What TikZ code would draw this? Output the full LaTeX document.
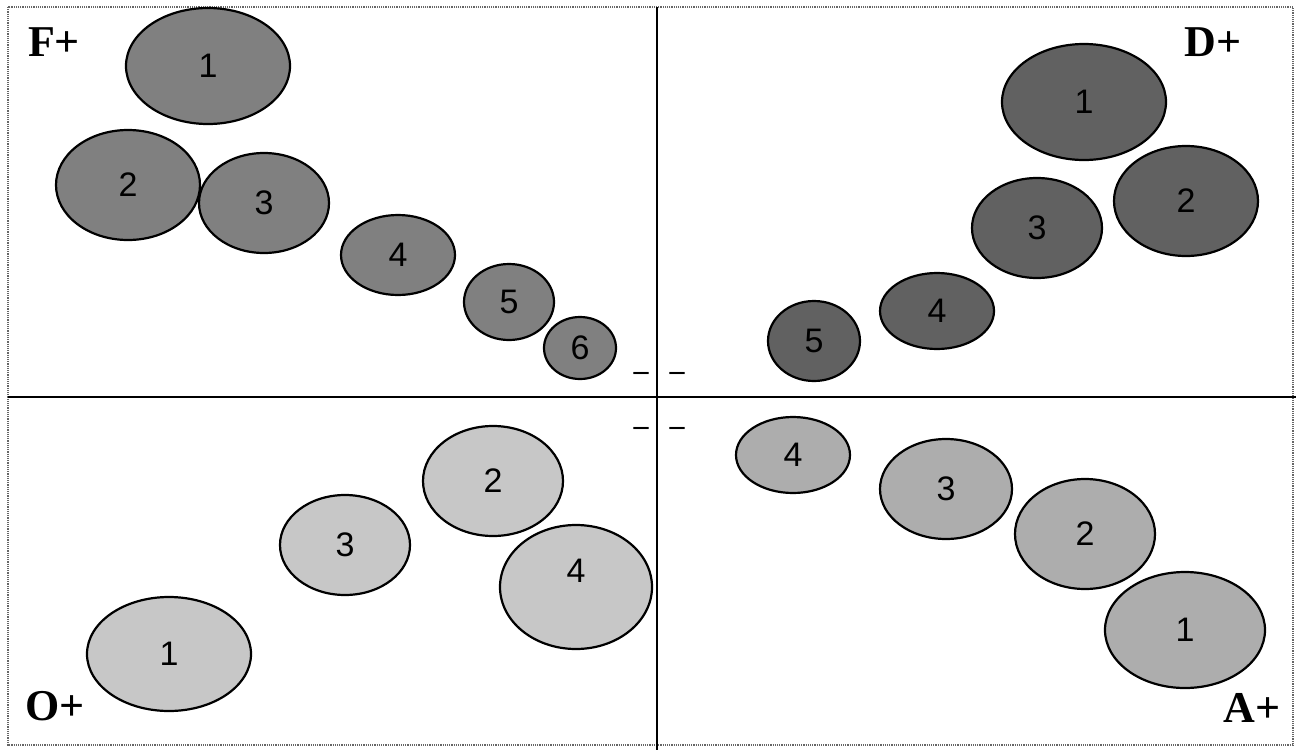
\documentclass[tikz,border=0pt]{standalone}
\usepackage{fontspec}
\usetikzlibrary{shapes.geometric}
\setmainfont{Liberation Serif}
\newfontfamily\numfont{Liberation Sans}
\begin{document}
\begin{tikzpicture}[x=1pt,y=-1pt,
  blob/.style={draw=black,line width=2.2pt,ellipse,inner sep=0pt,font=\numfont\fontsize{34}{34}\selectfont},
  fq/.style={blob,fill=black!50},
  dq/.style={blob,fill=black!62},
  oq/.style={blob,fill=black!22},
  aq/.style={blob,fill=black!32},
  corner/.style={font=\bfseries\fontsize{44}{44}\selectfont,inner sep=0pt},
  dashmark/.style={font=\bfseries\fontsize{30}{30}\selectfont,inner sep=0pt},
  axis/.style={line width=2pt,black}]
\useasboundingbox (0,0) rectangle (1296,750);
\fill[white] (0,0) rectangle (1296,750);
\draw[black!60,densely dotted,line width=1.2pt] (8,7) rectangle (1293,745);
\coordinate (vt) at (657,7);
\coordinate (vb) at (657,750);
\coordinate (hl) at (8,397);
\coordinate (hr) at (1296,397);
\draw[axis] (vt) -- (vb);
\draw[axis] (hl) -- (hr);
% F+
\node[fq,minimum width=164pt,minimum height=116pt] (f1) at (208,66) {1};
\node[fq,minimum width=144pt,minimum height=110pt] (f2) at (128,185) {2};
\node[fq,minimum width=130pt,minimum height=100pt] (f3) at (264,203) {3};
\node[fq,minimum width=114pt,minimum height=80pt] (f4) at (398,255) {4};
\node[fq,minimum width=90pt,minimum height=76pt] (f5) at (509,302) {5};
\node[fq,minimum width=72pt,minimum height=62pt] (f6) at (580,348) {6};
% D+
\node[dq,minimum width=164pt,minimum height=116pt] (d1) at (1084,102) {1};
\node[dq,minimum width=144pt,minimum height=110pt] (d2) at (1186,201) {2};
\node[dq,minimum width=130pt,minimum height=100pt] (d3) at (1037,228) {3};
\node[dq,minimum width=114pt,minimum height=76pt] (d4) at (937,311) {4};
\node[dq,minimum width=92pt,minimum height=80pt] (d5) at (814,341) {5};
% O+
\node[oq,minimum width=164pt,minimum height=114pt] (o1) at (169,654) {1};
\node[oq,minimum width=140pt,minimum height=110pt] (o2) at (493,481) {2};
\node[oq,minimum width=130pt,minimum height=100pt] (o3) at (345,545) {3};
\node[oq,minimum width=152pt,minimum height=124pt] (o4) at (576,587) {\raisebox{32pt}{4}};
% A+
\node[aq,minimum width=160pt,minimum height=116pt] (a1) at (1185,630) {1};
\node[aq,minimum width=140pt,minimum height=110pt] (a2) at (1085,534) {2};
\node[aq,minimum width=132pt,minimum height=100pt] (a3) at (946,489) {3};
\node[aq,minimum width=114pt,minimum height=76pt] (a4) at (793,455) {4};
% corner labels
\node[corner] (F) at (54,42) {F+};
\node[corner] (D) at (1213,42) {D+};
\node[corner] (O) at (55,706) {O+};
\node[corner] (A) at (1252,708) {A+};
\node[dashmark] (m1) at (641,376) {\textendash};
\node[dashmark] (m2) at (677,376) {\textendash};
\node[dashmark] (m3) at (641,431) {\textendash};
\node[dashmark] (m4) at (677,431) {\textendash};
\end{tikzpicture}
\end{document}
